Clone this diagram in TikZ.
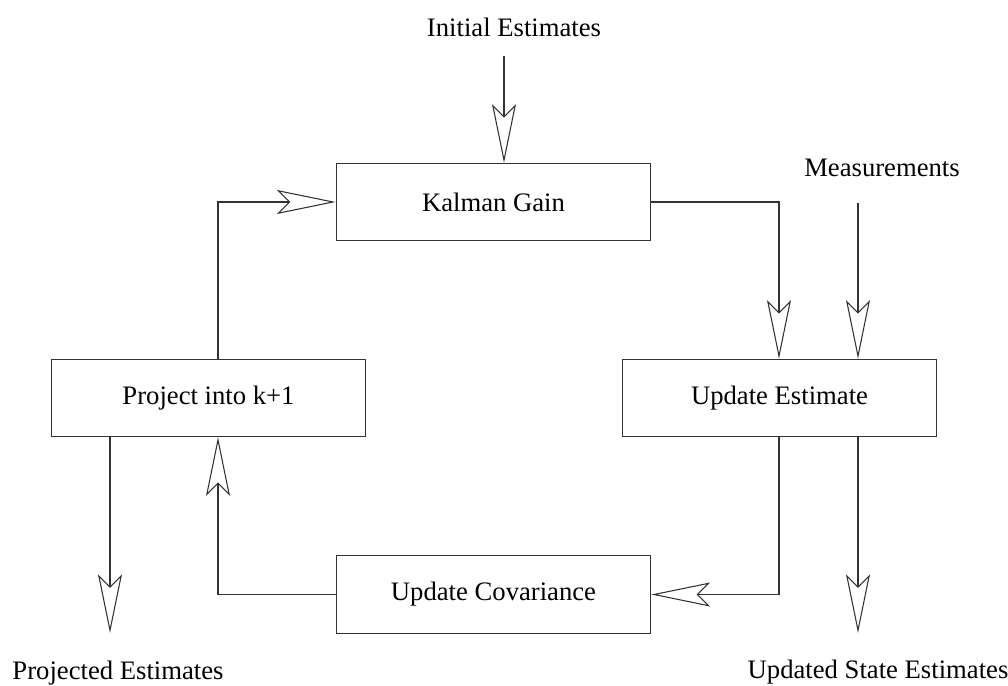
\documentclass[tikz,border=0pt]{standalone}
\usepackage{fontspec}
\setmainfont{Liberation Serif}
\usetikzlibrary{arrows.meta}
\begin{document}
\begin{tikzpicture}[x=0.75pt,y=-0.75pt,
	box/.style={draw=black!80, line width=0.8pt, minimum width=236pt, minimum height=58pt, inner sep=0pt, font=\fontsize{20}{24}\selectfont},
	lbl/.style={inner sep=0pt, font=\fontsize{20}{24}\selectfont},
	flow/.style={draw=black!80, line width=0.8pt, -{Stealth[open, length=44pt, width=18pt, inset=9pt, line width=0.8pt]}}]
	\useasboundingbox (0,0) rectangle (1008,686);
	% Khối
	\node[box] (kalman) at (493.5,202) {Kalman Gain};
	\node[box] (project) at (208.5,398) {Project into k+1};
	\node[box] (update) at (779.5,398) {Update Estimate};
	\node[box] (cov) at (493.5,594.5) {Update Covariance};
	% Nhãn
	\node[lbl] (init) at (514,27) {Initial Estimates};
	\node[lbl] (measlbl) at (882,168) {Measurements};
	\node[lbl] (projlbl) at (118,673) {Projected Estimates};
	\node[lbl] (updlbl) at (878,672) {Updated State Estimates};
	% Điểm gấp
	\coordinate (inA) at (504,56);
	\coordinate (meas) at (858,203);
	\coordinate (bendR) at (779,202);
	\coordinate (bendL) at (218,202);
	\coordinate (outR) at (858,633);
	\coordinate (outL) at (110,633);
	% Mũi tên
	\draw[flow] (inA) -- (inA |- kalman.north);
	\draw[flow] (kalman.east) -- (bendR) -- (bendR |- update.north);
	\draw[flow] (meas) -- (meas |- update.north);
	\draw[flow] (bendR |- update.south) |- (cov.east);
	\draw[flow] (outR |- update.south) -- (outR);
	\draw[flow] (cov.west) -| (bendL |- project.south);
	\draw[flow] (bendL |- project.north) -- (bendL) -- (kalman.west);
	\draw[flow] (outL |- project.south) -- (outL);
\end{tikzpicture}
\end{document}
